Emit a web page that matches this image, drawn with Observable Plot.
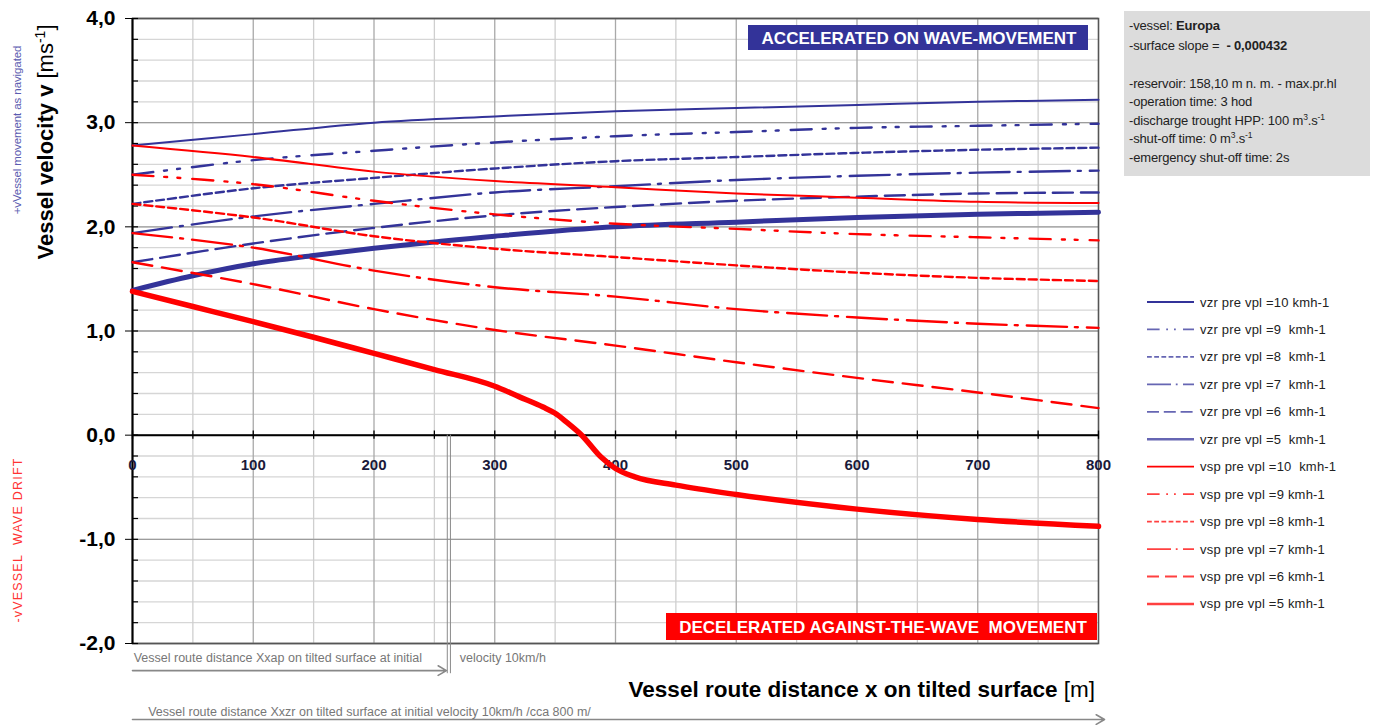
<!DOCTYPE html>
<html><head><meta charset="utf-8">
<script src="https://cdn.jsdelivr.net/npm/d3@7"></script>
<script src="https://cdn.jsdelivr.net/npm/@observablehq/plot@0.6"></script>
<style>body{margin:0;background:#fff} svg{display:block}</style>
</head><body><div id="chart"></div>
<script>
// ---------- data ----------
const xs = [0, 100, 200, 300, 400, 500, 600, 700, 800];
const vzr10 = [2.78, 2.89, 3.00, 3.06, 3.11, 3.14, 3.17, 3.20, 3.22];
const vzr9  = [2.50, 2.64, 2.73, 2.81, 2.87, 2.91, 2.95, 2.97, 2.99];
const vzr8  = [2.22, 2.37, 2.47, 2.56, 2.63, 2.67, 2.71, 2.74, 2.76];
const vzr7  = [1.94, 2.10, 2.22, 2.33, 2.39, 2.45, 2.49, 2.52, 2.54];
const vzr6  = [1.66, 1.84, 1.99, 2.11, 2.19, 2.25, 2.29, 2.32, 2.33];
const xs5   = [0, 50, 100, 150, 200, 250, 300, 400, 500, 600, 700, 800];
const vzr5  = [1.39, 1.53, 1.645, 1.725, 1.795, 1.855, 1.91, 2.00, 2.045, 2.09, 2.12, 2.14];
const vsp10 = [2.78, 2.67, 2.53, 2.44, 2.38, 2.32, 2.28, 2.24, 2.23];
const vsp9  = [2.50, 2.41, 2.25, 2.12, 2.03, 1.98, 1.93, 1.90, 1.87];
const vsp8  = [2.22, 2.09, 1.91, 1.79, 1.71, 1.63, 1.56, 1.51, 1.48];
const vsp7  = [1.94, 1.80, 1.58, 1.42, 1.33, 1.21, 1.13, 1.07, 1.03];
const vsp6  = [1.66, 1.45, 1.21, 1.01, 0.86, 0.70, 0.55, 0.41, 0.26];
const xsp5  = [0, 50, 100, 150, 200, 250, 300, 320, 340, 350, 360, 372, 388, 400, 416, 450, 500, 600, 700, 800];
const vsp5  = [1.38, 1.235, 1.09, 0.94, 0.785, 0.63, 0.47, 0.37, 0.27, 0.21, 0.12, 0.00, -0.21, -0.32, -0.40, -0.48, -0.57, -0.71, -0.81, -0.875];

const legendLabels = [
  "vzr pre vpl =10 kmh-1", "vzr pre vpl =9  kmh-1", "vzr pre vpl =8  kmh-1",
  "vzr pre vpl =7  kmh-1", "vzr pre vpl =6  kmh-1", "vzr pre vpl =5  kmh-1",
  "vsp pre vpl =10  kmh-1", "vsp pre vpl =9 kmh-1", "vsp pre vpl =8 kmh-1",
  "vsp pre vpl =7 kmh-1", "vsp pre vpl =6 kmh-1", "vsp pre vpl =5 kmh-1"
];
const xLabels = [0, 100, 200, 300, 400, 500, 600, 700, 800];
const yMajor = [-2, -1, 0, 1, 2, 3, 4];
const yMinor = d3.range(-2, 4.001, 0.2).map(v => +v.toFixed(1));
const xGrid50 = d3.range(50, 800, 100);
const xGrid100 = d3.range(100, 800, 100);
const xTicks = d3.range(0, 801, 50);
const xxap = 262;     // distance Xxap (m)
const xxzr = 805;     // distance Xxzr (m)
const infoLines = [
  ["-vessel: ", "Europa"],
  ["-surface slope =  ", "- 0,000432"],
  ["", ""],
  ["-reservoir: 158,10 m n. m. - max.pr.hl", ""],
  ["-operation time: 3 hod", ""],
  ["-discharge trought HPP: 100 m", "3", ".s", "-1"],
  ["-shut-off time: 0 m", "3", ".s", "-1"],
  ["-emergency shut-off time: 2s", ""]
];

// ---------- series ----------
const NAVY = "#333399", RED = "#ff0000";
const styles = [
  {c: NAVY, w: 2,   d: null},
  {c: NAVY, w: 2.4, d: "21,11,3,10,3,12"},
  {c: NAVY, w: 2.4, d: "8,4"},
  {c: NAVY, w: 2.4, d: "40,8,3,9"},
  {c: NAVY, w: 2.4, d: "20,8"},
  {c: NAVY, w: 5,   d: null},
  {c: RED,  w: 2,   d: null},
  {c: RED,  w: 2.4, d: "21,11,3,10,3,12"},
  {c: RED,  w: 2.4, d: "8,4"},
  {c: RED,  w: 2.4, d: "40,8,3,9"},
  {c: RED,  w: 2.4, d: "20,10"},
  {c: RED,  w: 5.5, d: null}
];
const seriesData = [
  [xs, vzr10], [xs, vzr9], [xs, vzr8], [xs, vzr7], [xs, vzr6], [xs5, vzr5],
  [xs, vsp10], [xs, vsp9], [xs, vsp8], [xs, vsp7], [xs, vsp6], [xsp5, vsp5]
];
const lineMarks = seriesData.map(([X, Y], i) => {
  const rows = X.map((x, j) => ({x, y: Y[j]}));
  const s = styles[i];
  return Plot.line(rows, {x: "x", y: "y", stroke: s.c, strokeWidth: s.w,
    strokeDasharray: s.d || undefined, curve: i === 11 ? "monotone-x" : "catmull-rom"});
});

const FONT = "'Liberation Sans', Arial, sans-serif";
const fmt = d => d.toFixed(1).replace(".", ",");

const plot = Plot.plot({
  width: 1376, height: 725,
  marginLeft: 132, marginRight: 278, marginTop: 18, marginBottom: 82,
  x: {domain: [0, 800], axis: null},
  y: {domain: [-2, 4], axis: null},
  style: {fontFamily: FONT, background: "#fff", overflow: "visible", color: "#000"},
  marks: [
    Plot.ruleY(yMinor, {stroke: "#d6d6d6", strokeWidth: 1.3}),
    Plot.ruleX(xGrid50, {stroke: "#cfcfcf", strokeWidth: 1.3}),
    Plot.ruleX(xGrid100, {stroke: "#a9a9a9", strokeWidth: 1.3}),
    Plot.ruleY(yMajor, {stroke: "#9c9c9c", strokeWidth: 1.3}),
    Plot.frame({stroke: "#555", strokeWidth: 1.6}),
    Plot.ruleX([0], {stroke: "#000", strokeWidth: 2}),
    Plot.ruleY([0], {stroke: "#000", strokeWidth: 2}),
    Plot.axisY({ticks: yMajor, tickSize: 7, tickPadding: 10, tickFormat: fmt, label: null,
      fontSize: 21, fontWeight: "bold", anchor: "left"}),
    Plot.ruleY(yMinor, {x1: 0, x2: 5, stroke: "#000", strokeWidth: 1.2}),
    Plot.ruleX(xTicks, {y1: -0.04, y2: 0.04, stroke: "#000", strokeWidth: 1.3}),
    Plot.text(xLabels, {x: d => d, y: 0, dy: 30, text: d => String(d),
      fontSize: 15, fontWeight: "bold", fill: "#1a1a3a"}),
    ...lineMarks,
    Plot.ruleX([xxap - 1.3, xxap + 1.3], {y1: 0, y2: -2.29, stroke: "#8a8a8a", strokeWidth: 1}),
    Plot.arrow([{a: 0, b: xxap - 2, y: -2.26}], {x1: "a", x2: "b", y1: "y", y2: "y",
      stroke: "#888", strokeWidth: 1.6, headLength: 9}),
    Plot.arrow([{a: 0, b: xxzr, y: -2.73}], {x1: "a", x2: "b", y1: "y", y2: "y",
      stroke: "#888", strokeWidth: 1.6, headLength: 9}),
    Plot.text(["Vessel route distance Xxap on tilted surface at initial"],
      {x: 1, y: -2.14, text: d => d, textAnchor: "start", fontSize: 12.5, fill: "#777"}),
    Plot.text(["velocity 10km/h"],
      {x: xxap + 9, y: -2.14, text: d => d, textAnchor: "start", fontSize: 12.5, fill: "#777"}),
    Plot.text(["Vessel route distance Xxzr on tilted surface at initial velocity 10km/h /cca 800 m/"],
      {x: 13, y: -2.66, text: d => d, textAnchor: "start", fontSize: 12.5, fill: "#777",
       letterSpacing: 0.1})
  ]
});
document.getElementById("chart").appendChild(plot);

const svg = d3.select(plot);
const g = svg.append("g").attr("font-family", FONT).attr("text-anchor", "start");

// label boxes
g.append("rect").attr("x", 748).attr("y", 25).attr("width", 340).attr("height", 25).attr("fill", NAVY);
g.append("text").attr("x", 919).attr("y", 44).attr("text-anchor", "middle")
  .attr("fill", "#fff").attr("font-weight", "bold").attr("font-size", 17)
  .text("ACCELERATED ON WAVE-MOVEMENT");
g.append("rect").attr("x", 666).attr("y", 613).attr("width", 431).attr("height", 27).attr("fill", RED);
g.append("text").attr("x", 883).attr("y", 633).attr("text-anchor", "middle")
  .attr("fill", "#fff").attr("font-weight", "bold").attr("font-size", 17)
  .attr("xml:space", "preserve")
  .text("DECELERATED AGAINST-THE-WAVE  MOVEMENT");

// info box
g.append("rect").attr("x", 1124).attr("y", 11).attr("width", 246).attr("height", 165).attr("fill", "#dcdcdc");
const infoY = [26, 46, 64, 84, 102, 121, 139, 158];
infoLines.forEach((parts, i) => {
  const t = g.append("text").attr("x", 1129).attr("y", infoY[i] + 4)
    .attr("font-size", 13).attr("letter-spacing", -0.15).attr("fill", "#222");
  if (parts.length === 2) {
    t.append("tspan").text(parts[0]);
    if (parts[1]) t.append("tspan").attr("font-weight", "bold").attr("xml:space", "preserve").text(parts[1]);
  } else {
    t.append("tspan").text(parts[0]);
    t.append("tspan").attr("font-size", 8.5).attr("dy", -5).text(parts[1]);
    t.append("tspan").attr("dy", 5).text(parts[2]);
    t.append("tspan").attr("font-size", 8.5).attr("dy", -5).text(parts[3]);
  }
});

// legend
legendLabels.forEach((lab, i) => {
  const y = 302 + i * 27.45;
  const s = styles[i];
  g.append("line").attr("x1", 1147).attr("x2", 1194).attr("y1", y).attr("y2", y)
    .attr("stroke", s.c).attr("stroke-width", s.w > 3 ? 2.6 : 1.8)
    .attr("stroke-opacity", i === 0 || i === 6 ? 1 : 0.75)
    .attr("stroke-dasharray", s.d ? s.d.split(",").map(v => +v * 0.6).join(",") : null);
  g.append("text").attr("x", 1200).attr("y", y + 4.5).attr("font-size", 13)
    .attr("letter-spacing", 0.2).attr("xml:space", "preserve").attr("fill", "#222").text(lab);
});

// y axis title
const yt = g.append("text").attr("transform", "translate(53,142) rotate(-90)")
  .attr("text-anchor", "middle").attr("font-size", 22).attr("fill", "#000");
yt.append("tspan").attr("font-weight", "bold").text("Vessel velocity v ");
yt.append("tspan").text("[ms");
yt.append("tspan").attr("font-size", 14).attr("dy", -8).text("-1");
yt.append("tspan").attr("dy", 8).text("]");

g.append("text").attr("transform", "translate(21,130) rotate(-90)")
  .attr("text-anchor", "middle").attr("font-size", 11.5).attr("fill", "#5b5bb0")
  .attr("letter-spacing", -0.1).text("+vVessel movement as navigated");
g.append("text").attr("transform", "translate(22,540) rotate(-90)")
  .attr("text-anchor", "middle").attr("font-size", 12.5).attr("fill", "#ff3333")
  .attr("letter-spacing", 1.2).text("-vVESSEL  WAVE DRIFT");

// x axis title
const xt = g.append("text").attr("x", 1095).attr("y", 697).attr("text-anchor", "end")
  .attr("font-size", 22.5).attr("fill", "#000");
xt.append("tspan").attr("font-weight", "bold").text("Vessel route distance x on tilted surface ");
xt.append("tspan").text("[m]");
</script>
</body></html>
